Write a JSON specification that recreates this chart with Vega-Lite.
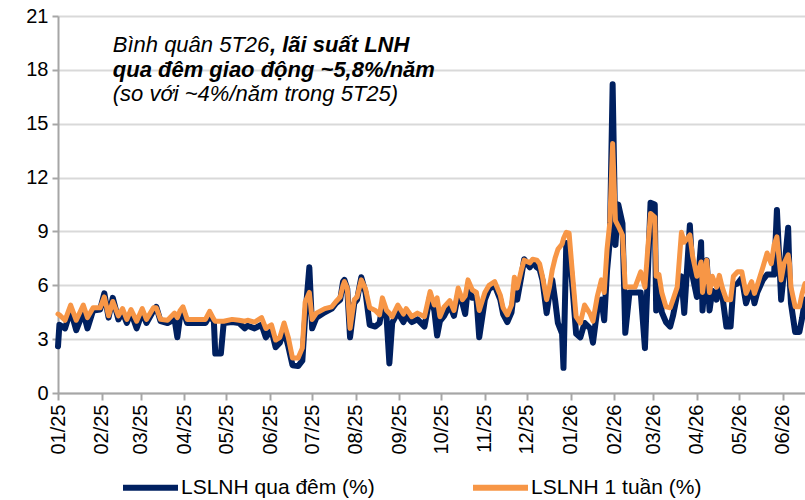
{
  "$schema": "https://vega.github.io/schema/vega-lite/v6.json",
  "width": 747,
  "height": 377,
  "autosize": "none",
  "padding": {"left": 58, "top": 16, "right": 0, "bottom": 107},
  "background": "white",
  "config": {
    "font": "Liberation Sans",
    "view": {"stroke": null},
    "legend": {
      "orient": "none", "legendX": 62, "legendY": 441, "direction": "horizontal",
      "symbolType": "stroke", "symbolSize": 3025, "symbolStrokeWidth": 6,
      "labelFontSize": 21, "labelOffset": 0, "labelLimit": 400, "columnPadding": 86, "padding": 0,
      "labelColor": "#000", "labelFont": "Liberation Sans", "title": null
    }
  },
  "datasets": {
    "rates": [
      {"d":"2025-01-01","on":2.6,"w":4.4},{"d":"2025-01-02","on":3.8,"w":4.35},{"d":"2025-01-06","on":3.6,"w":4.05},{"d":"2025-01-10","on":4.6,"w":4.9},{"d":"2025-01-14","on":3.5,"w":4.05},{"d":"2025-01-19","on":4.5,"w":4.9},{"d":"2025-01-22","on":3.6,"w":4.2},{"d":"2025-01-26","on":4.6,"w":4.75},{"d":"2025-01-31","on":4.65,"w":4.75},
      {"d":"2025-02-03","on":5.55,"w":5.35},{"d":"2025-02-06","on":4.2,"w":4.3},{"d":"2025-02-09","on":5.3,"w":5.1},{"d":"2025-02-13","on":4.1,"w":4.3},{"d":"2025-02-16","on":4.5,"w":4.7},{"d":"2025-02-19","on":3.9,"w":4.1},{"d":"2025-02-22","on":4.5,"w":4.65},{"d":"2025-02-26","on":3.6,"w":4.0},
      {"d":"2025-03-02","on":4.5,"w":4.7},{"d":"2025-03-05","on":3.9,"w":4.1},{"d":"2025-03-10","on":4.6,"w":4.75},{"d":"2025-03-12","on":4.8,"w":4.75},{"d":"2025-03-15","on":4.0,"w":4.1},{"d":"2025-03-20","on":3.9,"w":4.05},{"d":"2025-03-25","on":4.1,"w":4.45},{"d":"2025-03-27","on":3.1,"w":4.2},{"d":"2025-03-29","on":4.3,"w":4.6},{"d":"2025-03-31","on":4.6,"w":4.8},
      {"d":"2025-04-03","on":3.9,"w":4.1},{"d":"2025-04-10","on":3.9,"w":4.1},{"d":"2025-04-16","on":3.9,"w":4.1},{"d":"2025-04-19","on":4.3,"w":4.55},{"d":"2025-04-22","on":4.0,"w":4.1},{"d":"2025-04-23","on":2.2,"w":4.0},{"d":"2025-04-27","on":2.2,"w":4.0},{"d":"2025-04-29","on":3.9,"w":4.0},
      {"d":"2025-05-05","on":3.95,"w":4.1},{"d":"2025-05-10","on":3.9,"w":4.05},{"d":"2025-05-14","on":3.6,"w":4.0},{"d":"2025-05-16","on":3.75,"w":4.05},{"d":"2025-05-21","on":3.6,"w":3.95},{"d":"2025-05-26","on":3.8,"w":4.2},{"d":"2025-05-29","on":3.1,"w":3.6},
      {"d":"2025-06-02","on":3.5,"w":3.8},{"d":"2025-06-05","on":2.55,"w":2.95},{"d":"2025-06-08","on":2.8,"w":3.1},{"d":"2025-06-11","on":3.5,"w":3.9},{"d":"2025-06-14","on":2.6,"w":3.1},{"d":"2025-06-17","on":1.55,"w":1.95},{"d":"2025-06-21","on":1.5,"w":1.95},{"d":"2025-06-24","on":1.8,"w":2.5},{"d":"2025-06-26","on":4.2,"w":5.05},{"d":"2025-06-29","on":7.0,"w":5.6},
      {"d":"2025-07-01","on":3.6,"w":4.1},{"d":"2025-07-04","on":4.2,"w":4.45},{"d":"2025-07-10","on":4.5,"w":4.7},{"d":"2025-07-15","on":4.7,"w":4.8},{"d":"2025-07-18","on":5.0,"w":5.1},{"d":"2025-07-21","on":5.2,"w":5.35},{"d":"2025-07-23","on":6.2,"w":6.0},{"d":"2025-07-24","on":6.3,"w":6.2},{"d":"2025-07-26","on":5.8,"w":5.85},{"d":"2025-07-28","on":3.1,"w":3.6},{"d":"2025-07-31","on":5.0,"w":5.2},
      {"d":"2025-08-02","on":5.2,"w":5.35},{"d":"2025-08-05","on":6.45,"w":6.3},{"d":"2025-08-08","on":5.6,"w":5.8},{"d":"2025-08-11","on":3.8,"w":4.75},{"d":"2025-08-15","on":3.7,"w":4.6},{"d":"2025-08-18","on":3.9,"w":4.35},{"d":"2025-08-20","on":4.8,"w":5.3},{"d":"2025-08-23","on":4.2,"w":4.6},{"d":"2025-08-25","on":1.65,"w":4.45},{"d":"2025-08-27","on":3.9,"w":4.25},{"d":"2025-08-31","on":4.5,"w":4.9},
      {"d":"2025-09-04","on":3.95,"w":4.4},{"d":"2025-09-06","on":4.3,"w":4.7},{"d":"2025-09-10","on":3.95,"w":4.25},{"d":"2025-09-14","on":4.1,"w":4.45},{"d":"2025-09-19","on":3.7,"w":4.25},{"d":"2025-09-23","on":5.4,"w":5.65},{"d":"2025-09-26","on":4.6,"w":4.9},{"d":"2025-09-28","on":3.2,"w":5.3},{"d":"2025-09-30","on":4.0,"w":4.25},
      {"d":"2025-10-03","on":4.3,"w":4.8},{"d":"2025-10-07","on":4.9,"w":5.15},{"d":"2025-10-10","on":4.3,"w":4.6},{"d":"2025-10-13","on":5.5,"w":5.85},{"d":"2025-10-16","on":5.0,"w":5.2},{"d":"2025-10-18","on":4.4,"w":5.4},{"d":"2025-10-20","on":5.9,"w":6.3},{"d":"2025-10-23","on":5.3,"w":5.75},{"d":"2025-10-26","on":5.3,"w":5.6},{"d":"2025-10-28","on":3.1,"w":4.6},
      {"d":"2025-11-01","on":5.2,"w":5.6},{"d":"2025-11-04","on":5.8,"w":6.0},{"d":"2025-11-08","on":6.0,"w":6.2},{"d":"2025-11-12","on":5.2,"w":5.45},{"d":"2025-11-14","on":4.4,"w":4.75},{"d":"2025-11-17","on":3.95,"w":4.35},{"d":"2025-11-20","on":4.5,"w":4.9},{"d":"2025-11-22","on":5.8,"w":6.45},{"d":"2025-11-24","on":5.2,"w":5.85},{"d":"2025-11-27","on":6.5,"w":6.85},{"d":"2025-11-29","on":7.45,"w":7.4},
      {"d":"2025-12-03","on":7.0,"w":7.25},{"d":"2025-12-05","on":7.3,"w":7.45},{"d":"2025-12-08","on":7.0,"w":7.4},{"d":"2025-12-10","on":6.9,"w":7.2},{"d":"2025-12-12","on":6.3,"w":6.5},{"d":"2025-12-15","on":4.45,"w":5.2},{"d":"2025-12-17","on":5.5,"w":5.9},{"d":"2025-12-19","on":6.3,"w":6.85},{"d":"2025-12-21","on":5.2,"w":7.5},{"d":"2025-12-23","on":3.9,"w":8.0},{"d":"2025-12-26","on":3.3,"w":8.3},{"d":"2025-12-27","on":1.4,"w":8.6},{"d":"2025-12-29","on":8.35,"w":8.95},{"d":"2025-12-31","on":8.0,"w":8.9},
      {"d":"2026-01-02","on":6.3,"w":7.0},{"d":"2026-01-05","on":3.3,"w":4.25},{"d":"2026-01-08","on":3.1,"w":3.9},{"d":"2026-01-11","on":3.9,"w":4.9},{"d":"2026-01-15","on":3.6,"w":4.4},{"d":"2026-01-17","on":2.8,"w":4.0},{"d":"2026-01-20","on":4.6,"w":5.35},{"d":"2026-01-23","on":5.2,"w":6.3},{"d":"2026-01-25","on":4.05,"w":5.6},{"d":"2026-01-27","on":6.8,"w":8.0},{"d":"2026-01-29","on":8.5,"w":9.5},{"d":"2026-01-31","on":17.2,"w":13.9},
      {"d":"2026-02-02","on":8.25,"w":9.6},{"d":"2026-02-04","on":10.5,"w":9.3},{"d":"2026-02-07","on":9.45,"w":8.8},{"d":"2026-02-09","on":3.35,"w":5.9},{"d":"2026-02-12","on":5.6,"w":5.9},{"d":"2026-02-16","on":5.6,"w":5.9},{"d":"2026-02-20","on":5.6,"w":6.75},{"d":"2026-02-23","on":2.5,"w":5.9},{"d":"2026-02-25","on":6.5,"w":8.0},{"d":"2026-02-27","on":10.6,"w":10.0},
      {"d":"2026-03-02","on":10.5,"w":9.8},{"d":"2026-03-03","on":4.6,"w":6.5},{"d":"2026-03-05","on":6.2,"w":6.6},{"d":"2026-03-07","on":4.5,"w":5.6},{"d":"2026-03-10","on":3.95,"w":4.8},{"d":"2026-03-13","on":3.7,"w":4.75},{"d":"2026-03-15","on":4.3,"w":5.2},{"d":"2026-03-18","on":5.5,"w":5.9},{"d":"2026-03-21","on":6.5,"w":8.95},{"d":"2026-03-23","on":4.45,"w":8.4},{"d":"2026-03-27","on":9.35,"w":8.8},{"d":"2026-03-29","on":6.5,"w":7.6},
      {"d":"2026-04-01","on":5.35,"w":6.5},{"d":"2026-04-04","on":8.4,"w":7.3},{"d":"2026-04-05","on":4.6,"w":5.6},{"d":"2026-04-08","on":7.4,"w":7.4},{"d":"2026-04-10","on":4.6,"w":5.6},{"d":"2026-04-12","on":5.7,"w":6.5},{"d":"2026-04-15","on":5.2,"w":5.9},{"d":"2026-04-17","on":6.0,"w":6.55},{"d":"2026-04-19","on":5.5,"w":5.9},{"d":"2026-04-22","on":3.7,"w":5.2},{"d":"2026-04-25","on":3.7,"w":5.2},{"d":"2026-04-27","on":6.0,"w":6.5},{"d":"2026-04-30","on":6.1,"w":6.75},
      {"d":"2026-05-03","on":6.4,"w":6.75},{"d":"2026-05-06","on":5.0,"w":5.55},{"d":"2026-05-10","on":5.9,"w":6.2},{"d":"2026-05-12","on":5.0,"w":5.55},{"d":"2026-05-14","on":5.6,"w":6.0},{"d":"2026-05-18","on":6.3,"w":7.0},{"d":"2026-05-21","on":6.6,"w":7.8},{"d":"2026-05-24","on":6.6,"w":7.2},{"d":"2026-05-26","on":6.6,"w":8.25},{"d":"2026-05-28","on":10.2,"w":8.7},{"d":"2026-05-31","on":5.2,"w":6.3},
      {"d":"2026-06-02","on":6.7,"w":7.2},{"d":"2026-06-05","on":9.2,"w":7.7},{"d":"2026-06-06","on":6.5,"w":7.2},{"d":"2026-06-07","on":5.0,"w":5.9},{"d":"2026-06-10","on":3.4,"w":4.8},{"d":"2026-06-13","on":3.4,"w":4.8},{"d":"2026-06-15","on":4.2,"w":5.55},{"d":"2026-06-17","on":5.2,"w":6.1}
    ],
    "notes": [
      {"d":"2025-02-09","v":19.0,"t":"Bình quân 5T26","wt":"normal"},
      {"d":"2025-06-01","v":19.0,"t":", lãi suất LNH","wt":"bold"},
      {"d":"2025-02-09","v":17.6,"t":"qua đêm giao động ~5,8%/năm","wt":"bold"},
      {"d":"2025-02-09","v":16.25,"t":"(so với ~4%/năm trong 5T25)","wt":"normal"}
    ]
  },
  "encoding": {
    "x": {
      "field": "d", "type": "temporal",
      "scale": {"type": "utc", "domain": ["2025-01-01", "2026-06-17"]},
      "axis": {
        "title": null, "tickCount": {"interval": "month", "step": 1},
        "labelExpr": "utcFormat(datum.value, '%m/%y')",
        "labelAngle": -90, "labelAlign": "right", "labelBaseline": "middle", "labelFontSize": 20,
        "labelColor": "#000", "labelPadding": 4, "labelOverlap": false, "labelFlush": false,
        "domainColor": "#a6a6a6", "domainWidth": 2, "tickColor": "#a6a6a6", "tickWidth": 2, "tickSize": 7, "grid": false
      }
    }
  },
  "layer": [
    {
      "data": {"name": "rates"},
      "mark": {"type": "line", "strokeWidth": 6, "strokeJoin": "round", "strokeCap": "round"},
      "encoding": {
        "y": {
          "field": "on", "type": "quantitative",
          "scale": {"domain": [0, 21], "nice": false, "zero": true},
          "axis": {
            "title": null, "values": [0, 3, 6, 9, 12, 15, 18, 21], "labelFontSize": 20, "labelColor": "#000",
            "labelPadding": 4, "domainColor": "#a6a6a6", "domainWidth": 2, "tickColor": "#a6a6a6", "tickWidth": 2, "tickSize": 6,
            "grid": true, "gridColor": "#d9d9d9", "gridWidth": 2
          }
        },
        "color": {
          "datum": "LSLNH qua đêm (%)", "type": "nominal",
          "scale": {"domain": ["LSLNH qua đêm (%)", "LSLNH 1 tuần (%)"], "range": ["#002060", "#F79646"]}
        }
      }
    },
    {
      "data": {"name": "rates"},
      "mark": {"type": "line", "strokeWidth": 5, "strokeJoin": "round", "strokeCap": "round"},
      "encoding": {
        "y": {"field": "w", "type": "quantitative"},
        "color": {"datum": "LSLNH 1 tuần (%)", "type": "nominal"}
      }
    },
    {
      "data": {"name": "notes"},
      "transform": [{"filter": "datum.wt == 'normal'"}],
      "mark": {"type": "text", "align": "left", "baseline": "alphabetic", "fontSize": 22, "fontStyle": "italic", "fontWeight": "normal", "color": "#000"},
      "encoding": {
        "y": {"field": "v", "type": "quantitative"},
        "text": {"field": "t"}
      }
    },
    {
      "data": {"name": "notes"},
      "transform": [{"filter": "datum.wt == 'bold'"}],
      "mark": {"type": "text", "align": "left", "baseline": "alphabetic", "fontSize": 22, "fontStyle": "italic", "fontWeight": "bold", "color": "#000"},
      "encoding": {
        "y": {"field": "v", "type": "quantitative"},
        "text": {"field": "t"}
      }
    }
  ]
}
